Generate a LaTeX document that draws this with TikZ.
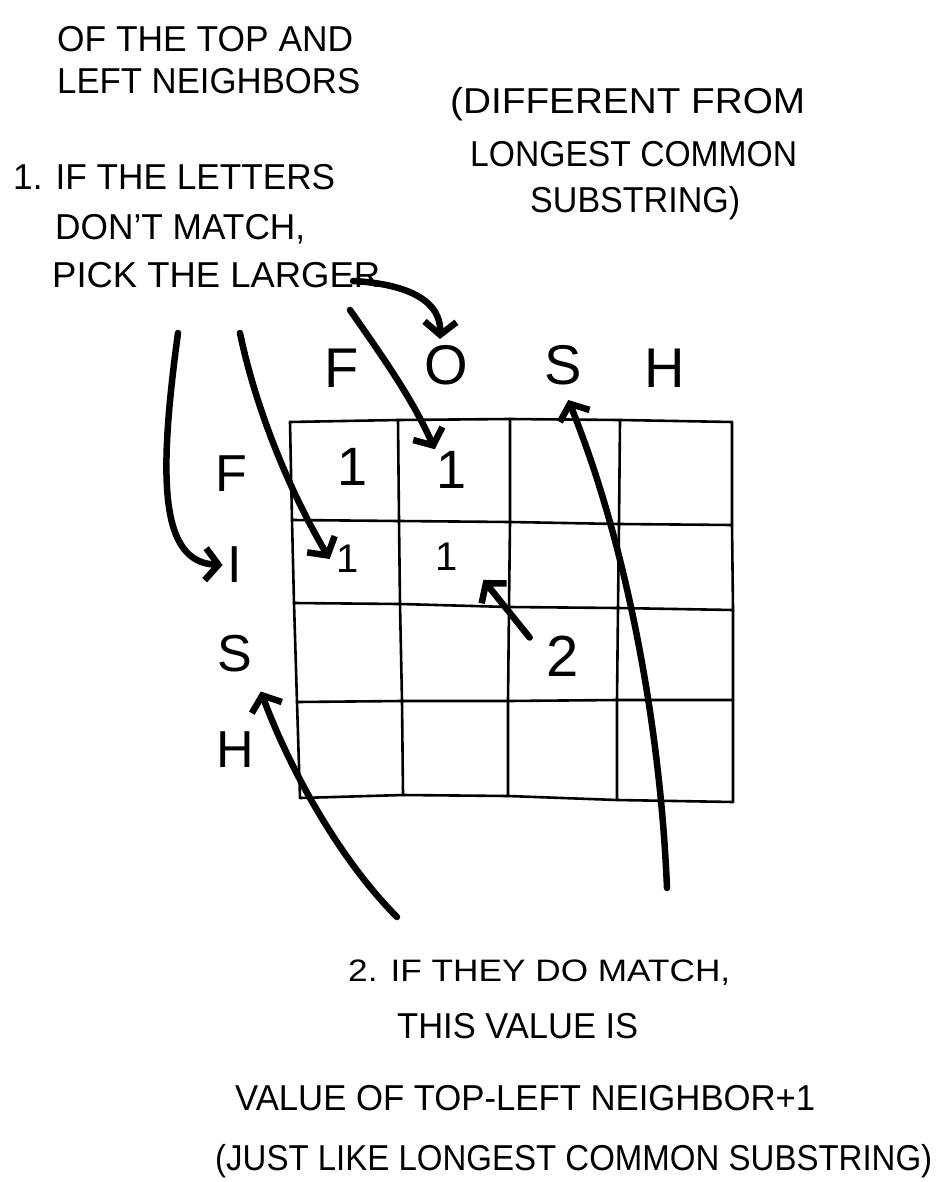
\documentclass[tikz,border=0pt]{standalone}
\usepackage{fontspec}
\usepackage{graphicx}
\setmainfont{Liberation Sans}
\usetikzlibrary{arrows.meta}
\newcommand\hw[2]{\resizebox{#1}{\height}{#2}}
\begin{document}
\begin{tikzpicture}[x=1pt,y=-1pt,
  txt/.style={anchor=base west, inner sep=0pt, font=\fontsize{36}{40}\selectfont},
  smalltxt/.style={txt, font=\fontsize{31}{36}\selectfont},
  head/.style={inner sep=2pt, font=\fontsize{56}{60}\selectfont},
  rowlbl/.style={inner sep=2pt, font=\fontsize{52}{56}\selectfont},
  bigval/.style={inner sep=2pt, font=\fontsize{54}{58}\selectfont},
  smallval/.style={inner sep=2pt, font=\fontsize{40}{44}\selectfont},
  twoval/.style={inner sep=2pt, font=\fontsize{58}{62}\selectfont},
  gridline/.style={line width=2.6pt, line join=round, line cap=round},
  arr/.style={line width=6.5pt, line cap=round, -{Straight Barb[length=13pt,width=32pt]}}]
\useasboundingbox (0,0) rectangle (952,1182);
\fill[white] (0,0) rectangle (952,1182);

% ---- texts
\node[txt] (t1) at (57,52) {\hw{296pt}{OF THE TOP AND}};
\node[txt] (t2) at (57,94) {\hw{303pt}{LEFT NEIGHBORS}};
\node[txt] (t3) at (450,114) {\hw{355pt}{(DIFFERENT FROM}};
\node[txt] (t4) at (470,167) {\hw{327pt}{LONGEST COMMON}};
\node[txt] (t5) at (530,213) {\hw{210pt}{SUBSTRING)}};
\node[txt] (t6) at (13,190) {\hw{322pt}{1. IF THE LETTERS}};
\node[txt] (t7) at (55,240) {\hw{250pt}{DON'T MATCH,}};
\node[txt] (t8) at (52,287) {\hw{328pt}{PICK THE LARGER}};
\node[smalltxt] (t9) at (348,981) {\hw{382pt}{2. IF THEY DO MATCH,}};
\node[txt] (t10) at (397,1038) {\hw{241pt}{THIS VALUE IS}};
\node[txt] (t11) at (235,1110) {\hw{580pt}{VALUE OF TOP-LEFT NEIGHBOR+1}};
\node[txt] (t12) at (215,1170) {\hw{717pt}{(JUST LIKE LONGEST COMMON SUBSTRING)}};

% ---- grid corners
\coordinate (g00) at (290,422); \coordinate (g10) at (398,420); \coordinate (g20) at (510,419); \coordinate (g30) at (620,420); \coordinate (g40) at (732,422);
\coordinate (g01) at (292,520); \coordinate (g11) at (399,521); \coordinate (g21) at (510,522); \coordinate (g31) at (619,524); \coordinate (g41) at (732,525);
\coordinate (g02) at (294,603); \coordinate (g12) at (400,604); \coordinate (g22) at (509,607); \coordinate (g32) at (618,608); \coordinate (g42) at (733,610);
\coordinate (g03) at (297,702); \coordinate (g13) at (402,701); \coordinate (g23) at (508,701); \coordinate (g33) at (617,700); \coordinate (g43) at (733,700);
\coordinate (g04) at (300,798); \coordinate (g14) at (403,795); \coordinate (g24) at (508,796); \coordinate (g34) at (617,800); \coordinate (g44) at (733,802);
\foreach \j in {0,...,4}{
  \draw[gridline] (g0\j) -- (g1\j) -- (g2\j) -- (g3\j) -- (g4\j);
  \draw[gridline] (g\j0) -- (g\j1) -- (g\j2) -- (g\j3) -- (g\j4);
}

% ---- headers
\node[head] (hF) at (342,368) {F};
\node[head] (hO) at (446,365) {O};
\node[head] (hS) at (563,365) {S};
\node[head] (hH) at (665,368) {H};
\node[rowlbl] (rF) at (231,474) {F};
\node[rowlbl] (rI) at (235,565) {I};
\node[rowlbl] (rS) at (235,654) {S};
\node[rowlbl] (rH) at (235,750) {H};

% ---- values
\node[bigval] (c11) at (353,467) {1};
\node[bigval] (c12) at (452,470) {1};
\node[smallval] (c21) at (348,559) {1};
\node[smallval] (c22) at (447,557) {1};
\node[twoval] (c33) at (563,656) {2};

% ---- arrows
\coordinate (s1) at (353,281);
\coordinate (s2) at (350,310);
\coordinate (s3) at (240,333);
\coordinate (s4) at (178,333);
\coordinate (s6) at (667,888);
\coordinate (s7) at (397,917);
\draw[arr] (s1) .. controls (410,284) and (441,302) .. ([xshift=-6pt,yshift=4pt]hO.north);
\draw[arr] (s2) .. controls (382,356) and (412,398) .. (c12.north west);
\draw[arr] (s3) .. controls (256,410) and (290,492) .. ([xshift=-5pt]c21.west);
\draw[arr] (s4) .. controls (158,480) and (160,562) .. ([xshift=-3pt]rI.west);
\draw[arr] ([xshift=-15pt,yshift=-4pt]c33.north west) -- ([xshift=23pt,yshift=-7pt]c22.south east);
\draw[arr, shorten >=14pt] (s6) .. controls (660,720) and (625,540) .. (hS.south);
\draw[arr, shorten >=18pt] (s7) .. controls (340,860) and (290,770) .. (rS.south east);
\end{tikzpicture}
\end{document}
